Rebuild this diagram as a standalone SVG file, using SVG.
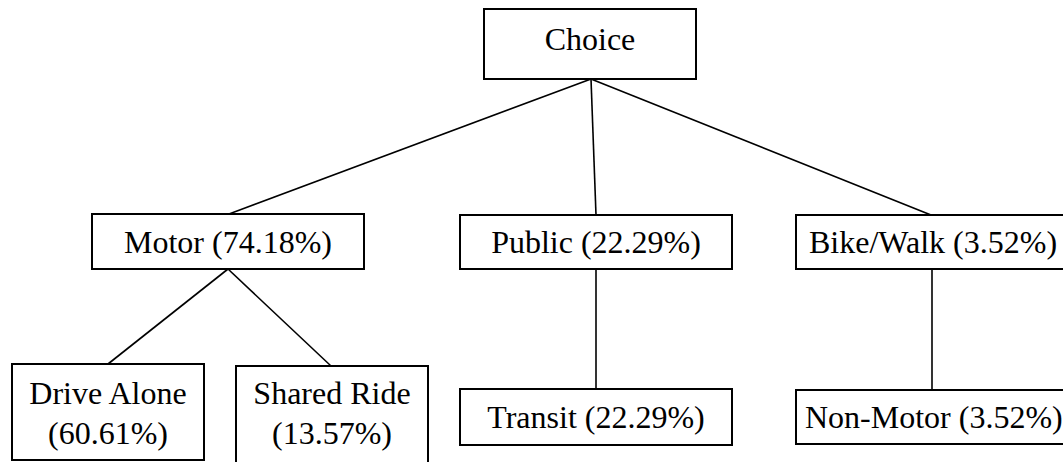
<svg xmlns="http://www.w3.org/2000/svg" width="1063" height="462" viewBox="0 0 1063 462">
<style>
.box{fill:#fff;stroke:#000;stroke-width:2}
.lbl{font-family:"Liberation Serif","Times New Roman",serif;font-size:32px;fill:#000;text-anchor:middle}
.conn line{stroke:#000;stroke-width:1.6}
</style>
<rect width="1063" height="462" fill="#fff"/>
<g id="connectors" class="conn">
<line x1="591" y1="79" x2="229" y2="214"/>
<line x1="591" y1="79" x2="596" y2="215"/>
<line x1="591" y1="79" x2="931" y2="215"/>
<line x1="228" y1="269" x2="108" y2="364"/>
<line x1="228" y1="269" x2="331" y2="366"/>
<line x1="596" y1="269" x2="596" y2="389"/>
<line x1="932" y1="269" x2="932" y2="390"/>
</g>
<g id="choice"><rect class="box" x="484" y="9" width="212" height="70"/><text class="lbl" x="590" y="50">Choice</text></g>
<g id="motor"><rect class="box" x="92" y="214" width="272" height="55"/><text class="lbl" x="228" y="253">Motor (74.18%)</text></g>
<g id="public"><rect class="box" x="460" y="215" width="272" height="54"/><text class="lbl" x="596" y="253">Public (22.29%)</text></g>
<g id="bikewalk"><rect class="box" x="796" y="215" width="280" height="54"/><text class="lbl" x="809" y="253" style="text-anchor:start">Bike/Walk (3.52%)</text></g>
<g id="drivealone"><rect class="box" x="12" y="364" width="192" height="96"/><text class="lbl" x="108" y="404">Drive Alone</text><text class="lbl" x="108" y="444">(60.61%)</text></g>
<g id="sharedride"><rect class="box" x="236" y="366" width="192" height="110"/><text class="lbl" x="332" y="404">Shared Ride</text><text class="lbl" x="332" y="444">(13.57%)</text></g>
<g id="transit"><rect class="box" x="460" y="389" width="272" height="56"/><text class="lbl" x="596" y="428">Transit (22.29%)</text></g>
<g id="nonmotor"><rect class="box" x="796" y="390" width="280" height="54"/><text class="lbl" x="805" y="428" style="text-anchor:start">Non-Motor (3.52%)</text></g>
</svg>
